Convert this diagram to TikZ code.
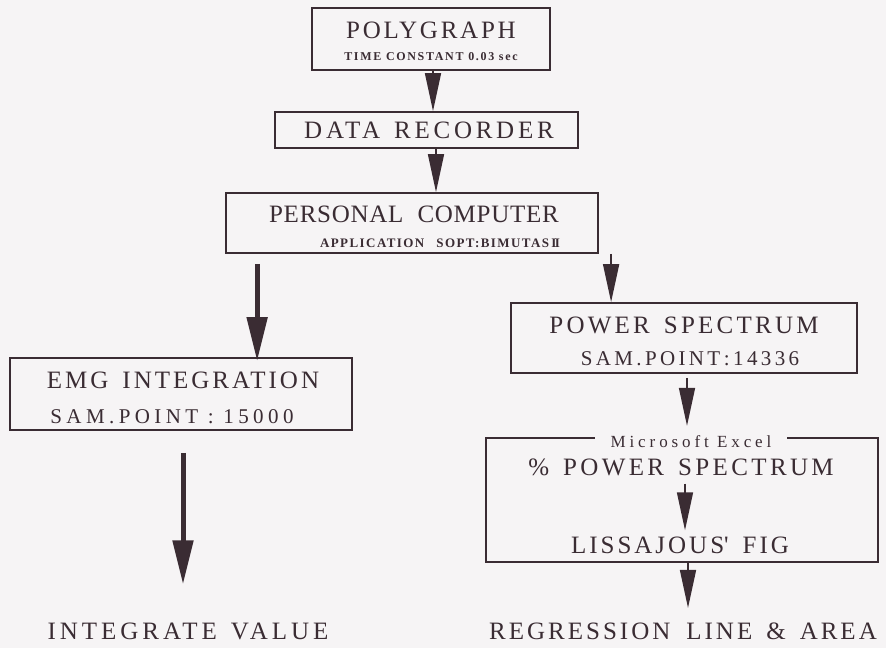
\documentclass[tikz,border=0pt]{standalone}
\usepackage{fontspec}
\setmainfont{Liberation Serif}
\usetikzlibrary{arrows.meta}
\definecolor{ink}{HTML}{3A2C33}
\definecolor{paper}{HTML}{F6F4F5}
\newcommand\widespaces{\spaceskip 14pt\relax}
\tikzset{
  box/.style={draw=ink, line width=1.8pt, rectangle, inner sep=0pt},
  lbl/.style={anchor=base, text=ink, inner sep=0pt},
  big/.style={lbl, font={\fontsize{25}{25}\selectfont\addfontfeatures{LetterSpace=#1}\widespaces}},
  mid/.style={lbl, font={\fontsize{21}{21}\selectfont\addfontfeatures{LetterSpace=#1}}},
  tiny/.style={lbl, font={\bfseries\fontsize{12}{12}\selectfont\addfontfeatures{LetterSpace=#1}}},
  thinarr/.style={draw=ink, line width=1.6pt, -{Triangle[length=38pt,width=16pt]}},
  fatarr/.style={draw=ink, line width=5pt, -{Triangle[length=44pt,width=20pt]}},
}
\begin{document}
\begin{tikzpicture}[x=1pt,y=-1pt]
  \fill[paper] (0,0) rectangle (886,648);
  \useasboundingbox (0,0) rectangle (886,648);

  % boxes
  \node[box, minimum width=238, minimum height=62] (poly) at (431,39) {};
  \node[box, minimum width=303, minimum height=36] (rec) at (426.5,130) {};
  \node[box, minimum width=372, minimum height=60] (pc) at (412,223) {};
  \node[box, minimum width=342, minimum height=72] (emg) at (181,394) {};
  \node[box, minimum width=346, minimum height=70] (ps) at (684,338) {};
  \node[box, minimum width=392, minimum height=124] (xl) at (682,500) {};
  \node[fill=paper, inner xsep=16pt, inner ysep=3pt, anchor=base, text=ink,
        font={\fontsize{17}{17}\selectfont\addfontfeatures{LetterSpace=23}}] (xltitle) at (691,447) {Microsoft Excel};

  % texts
  \node[big=11] (polyT) at (431,38) {POLYGRAPH};
  \node[tiny=14] (polyS) at (431,60) {TIME CONSTANT 0.03 sec};
  \node[big=15] (recT) at (429,138) {DATA RECORDER};
  \node[big=3] (pcT) at (414,222) {PERSONAL COMPUTER};
  \node[lbl, font={\bfseries\fontsize{13}{13}\selectfont\addfontfeatures{LetterSpace=11}}] (pcS) at (440,247) {APPLICATION\hspace{12pt}SOPT:BIMUTAS\,I\kern-1.5ptI};
  \node[big=12] (emgT) at (183,388) {EMG INTEGRATION};
  \node[mid=21] (emgS) at (172,423) {SAM.POINT : 15000};
  \node[big=13] (psT) at (684,333) {POWER SPECTRUM};
  \node[mid=16] (psS) at (690,365) {SAM.POINT\,:\,14336};
  \node[big=13.5] (pct) at (681,475) {\% POWER SPECTRUM};
  \node[big=12] (liss) at (680,553) {LISSAJOUS\textquotesingle{} FIG};
  \node[big=12] (reg) at (683,639) {REGRESSION\hspace{16pt}LINE \& AREA};
  \node[big=16] (intv) at (188,639) {INTEGRATE VALUE};

  % connectors
  \draw[thinarr] ([xshift=2pt]poly.south) -- ([xshift=2pt]poly.south |- rec.north);
  \draw[thinarr] ([xshift=9.5pt]rec.south) -- ([xshift=9.5pt]rec.south |- pc.north);
  \draw[fatarr, shorten >=6pt] ([shift={(32,10)}]pc.south west) -- ([shift={(32,10)}]pc.south west |- emg.north);
  \draw[thinarr] ([xshift=101pt]ps.north west |- pc.south) -- ([xshift=101pt]ps.north west);
  \draw[thinarr, shorten <=4pt, shorten >=6pt] ([xshift=3pt]ps.south) -- ([xshift=3pt]ps.south |- xltitle.north);
  \draw[thinarr, shorten <=8pt, shorten >=6pt] ([xshift=4pt]pct.south) -- ([xshift=4pt]pct.south |- liss.north);
  \draw[thinarr] ([xshift=6pt]xl.south) -- ([xshift=6pt,yshift=-45pt]xl.south);
  \draw[fatarr, shorten <=22pt, shorten >=38pt] ([xshift=2pt]emg.south) -- ([xshift=2pt]emg.south |- intv.north);
\end{tikzpicture}
\end{document}
